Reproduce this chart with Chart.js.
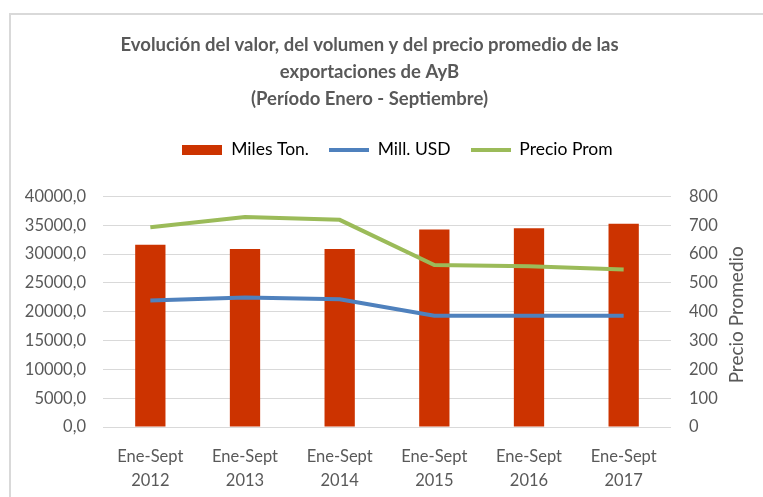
<!DOCTYPE html>
<html>
<head>
<meta charset="utf-8">
<script src="https://cdn.jsdelivr.net/npm/chart.js@4.4.0/dist/chart.umd.min.js"></script>
<style>
  html, body { margin: 0; padding: 0; background: #fff; }
  #wrap { position: relative; width: 763px; height: 497px; overflow: hidden; }
  #frame { position: absolute; left: 9px; top: 13px; width: 800px; height: 600px;
           border-left: 2px solid #d9d9d9; border-top: 2px solid #d9d9d9; }
  canvas { position: absolute; left: 0; top: 0; }
</style>
</head>
<body>
<div id="wrap">
  <div id="frame"></div>
  <canvas id="myChart" width="763" height="497"></canvas>
</div>
<script>
const categories = [["Ene-Sept","2012"],["Ene-Sept","2013"],["Ene-Sept","2014"],["Ene-Sept","2015"],["Ene-Sept","2016"],["Ene-Sept","2017"]];
const milesTon = [31640, 30900, 30900, 34270, 34490, 35250];
const millUSD = [21940, 22460, 22180, 19310, 19310, 19310];
const precioProm = [693, 729, 719, 562, 558, 547];

const grey = '#595959';
const font = 'Lato';

function marker(w, h, color) {
  var c = document.createElement('canvas');
  c.width = w; c.height = h;
  var x = c.getContext('2d');
  x.fillStyle = color;
  x.fillRect(0, 0, w, h);
  return c;
}

// empty box between legend and plot
const spacer = {
  id: 'spacer',
  beforeInit(chart) {
    Chart.layouts.addBox(chart, {
      position: 'top', weight: 500, fullSize: true, options: {},
      width: 0, height: 0, left: 0, top: 0, right: 0, bottom: 0,
      isHorizontal() { return true; },
      update(maxWidth) { this.width = maxWidth; this.height = 28; },
      draw() {}
    });
  },
  afterLayout(chart) {
    // title sits a bit left of centre, legend a bit right
    chart.titleBlock.left -= 12; chart.titleBlock.right -= 12;
    chart.legend.left += 16; chart.legend.right += 16;
  }
};

const rightTitle = {
  id: 'rightTitle',
  afterDraw(chart) {
    var ctx = chart.ctx;
    var a = chart.chartArea;
    ctx.save();
    ctx.translate(737, (a.top + a.bottom) / 2 + 3);
    ctx.rotate(-Math.PI / 2);
    ctx.fillStyle = grey;
    ctx.font = '19px ' + font;
    ctx.textAlign = 'center';
    ctx.textBaseline = 'middle';
    ctx.fillText('Precio Promedio', 0, 0);
    ctx.restore();
  }
};

var ctx = document.getElementById('myChart').getContext('2d');
var myChart = new Chart(ctx, {
  type: 'bar',
  data: {
    labels: categories,
    datasets: [{
      label: 'Miles Ton.',
      data: milesTon,
      backgroundColor: '#CC3300',
      yAxisID: 'y',
      order: 3,
      barPercentage: 0.32,
      categoryPercentage: 1
    }, {
      type: 'line',
      label: 'Mill. USD',
      data: millUSD,
      borderColor: '#4F81BD',
      backgroundColor: '#4F81BD',
      borderWidth: 4,
      pointRadius: 0,
      yAxisID: 'y',
      order: 2
    }, {
      type: 'line',
      label: 'Precio Prom',
      data: precioProm,
      borderColor: '#9BBB59',
      backgroundColor: '#9BBB59',
      borderWidth: 4,
      pointRadius: 0,
      yAxisID: 'y1',
      order: 1
    }]
  },
  options: {
    responsive: false,
    animation: false,
    layout: { padding: { left: 0, right: 0, top: 0, bottom: 0 } },
    plugins: {
      title: {
        display: true,
        text: ['Evolución del valor, del volumen y del precio promedio de las', 'exportaciones de AyB', '(Período Enero - Septiembre)'],
        color: grey,
        font: { family: font, size: 18.5, weight: 'bold', lineHeight: '27px' },
        padding: { top: 32, bottom: 8 }
      },
      legend: {
        display: true,
        position: 'top',
        labels: {
          color: grey,
          font: { family: font, size: 17.5 },
          usePointStyle: true,
          pointStyleWidth: 40,
          padding: 20,
          generateLabels: function (chart) {
            var styles = [marker(40, 10, '#CC3300'), marker(40, 4, '#4F81BD'), marker(40, 4, '#9BBB59')];
            return chart.data.datasets.map(function (ds, i) {
              return { text: ds.label, fillStyle: ds.backgroundColor, strokeStyle: ds.backgroundColor,
                       lineWidth: 0, pointStyle: styles[i], datasetIndex: i, hidden: false };
            });
          }
        }
      },
      tooltip: { enabled: false }
    },
    scales: {
      x: {
        afterFit: function (s) { s.height = 70; },
        grid: { display: false },
        border: { display: false },
        ticks: { color: grey, font: { family: font, size: 16.5, lineHeight: 1.45 }, padding: 10, maxRotation: 0 }
      },
      y: {
        position: 'left',
        min: 0, max: 40000,
        afterFit: function (s) { s.width = 103; },
        grid: { color: '#d9d9d9', drawTicks: false },
        border: { display: false },
        ticks: {
          stepSize: 5000, color: grey, padding: 17,
          font: { family: font, size: 16.5 },
          callback: function (v) { return v.toFixed(1).replace('.', ','); }
        }
      },
      y1: {
        position: 'right',
        min: 0, max: 800,
        afterFit: function (s) { s.width = 92; },
        grid: { display: false, drawTicks: false },
        border: { display: false },
        ticks: { stepSize: 100, color: grey, padding: 18, font: { family: font, size: 16.5 } }
      }
    }
  },
  plugins: [spacer, rightTitle]
});
</script>
</body>
</html>
